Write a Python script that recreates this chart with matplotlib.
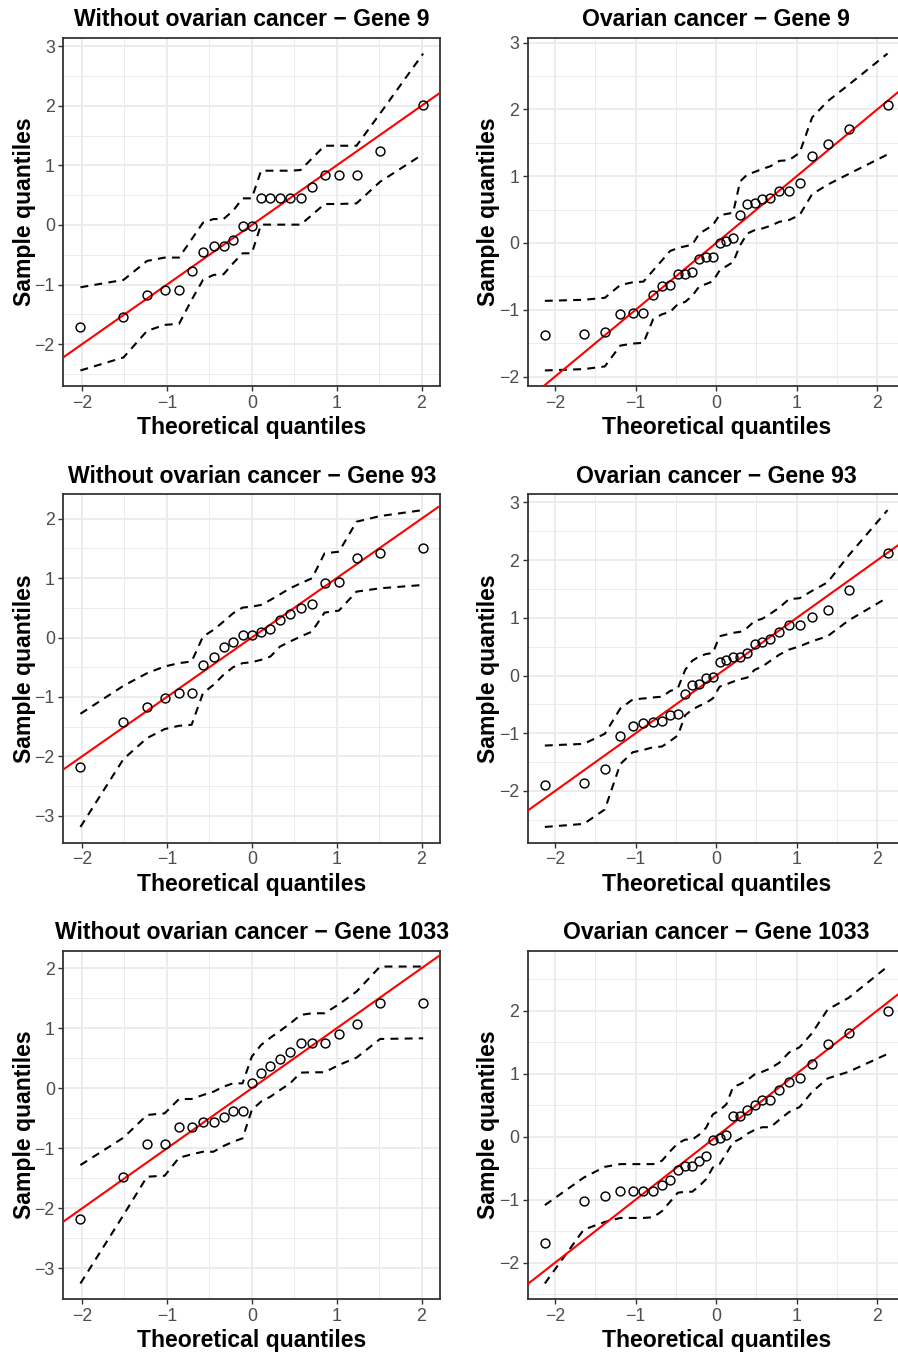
import matplotlib
matplotlib.use("Agg")
import matplotlib.pyplot as plt
from matplotlib.ticker import MultipleLocator
import numpy as np

plt.rcParams['font.family'] = ['Liberation Sans', 'DejaVu Sans']
plt.rcParams['axes.unicode_minus'] = True

# Theoretical normal quantiles (n = 23 and n = 30)
tq23 = [-2.019, -1.512, -1.234, -1.027, -0.857, -0.709, -0.575, -0.451, -0.333, -0.220, -0.109, 0.0,
        0.109, 0.220, 0.333, 0.451, 0.575, 0.709, 0.857, 1.027, 1.234, 1.512, 2.019]
tq30 = [-2.128, -1.645, -1.383, -1.191, -1.036, -0.903, -0.784, -0.674, -0.573, -0.477, -0.385, -0.297,
        -0.210, -0.126, -0.042, 0.042, 0.126, 0.210, 0.297, 0.385, 0.477, 0.573, 0.674, 0.784, 0.903,
        1.036, 1.191, 1.383, 1.645, 2.128]

titles = ["Without ovarian cancer \u2212 Gene 9", "Ovarian cancer \u2212 Gene 9",
          "Without ovarian cancer \u2212 Gene 93", "Ovarian cancer \u2212 Gene 93",
          "Without ovarian cancer \u2212 Gene 1033", "Ovarian cancer \u2212 Gene 1033"]

# Gene 9, without cancer
s1 = [-1.72, -1.54, -1.18, -1.09, -1.09, -0.77, -0.45, -0.36, -0.36, -0.25, -0.01, -0.01, 0.46, 0.46,
      0.46, 0.46, 0.46, 0.64, 0.84, 0.84, 0.84, 1.25, 2.01]
up1 = [-1.045, -0.922, -0.603, -0.547, -0.547, -0.24, 0.039, 0.10, 0.10, 0.24, 0.447, 0.447, 0.911,
       0.911, 0.911, 0.911, 0.922, 1.117, 1.330, 1.330, 1.330, 1.872, 2.877]
lo1 = [-2.441, -2.223, -1.777, -1.676, -1.659, -1.257, -0.922, -0.838, -0.827, -0.642, -0.475, -0.475,
       0.006, 0.006, 0.006, 0.006, 0.006, 0.168, 0.352, 0.352, 0.363, 0.726, 1.19]

# Gene 9, ovarian cancer
s2 = [-1.385, -1.365, -1.340, -1.058, -1.043, -1.043, -0.781, -0.650, -0.630, -0.463, -0.463, -0.438,
      -0.242, -0.217, -0.217, 0.0, 0.025, 0.081, 0.418, 0.579, 0.599, 0.655, 0.680, 0.781, 0.781,
      0.902, 1.295, 1.481, 1.703, 2.071]
up2 = [-0.867, -0.851, -0.821, -0.630, -0.589, -0.579, -0.413, -0.262, -0.121, -0.076, -0.050, -0.025,
       0.141, 0.202, 0.267, 0.418, 0.433, 0.453, 0.922, 1.023, 1.063, 1.108, 1.149, 1.229, 1.239,
       1.350, 1.879, 2.121, 2.368, 2.836]
lo2 = [-1.909, -1.889, -1.849, -1.537, -1.506, -1.496, -1.144, -1.068, -1.033, -0.917, -0.882, -0.791,
       -0.650, -0.615, -0.574, -0.413, -0.348, -0.287, -0.035, 0.141, 0.191, 0.217, 0.257, 0.317,
       0.343, 0.418, 0.730, 0.872, 1.033, 1.325]

# Gene 93, without cancer
s3 = [-2.185, -1.423, -1.165, -1.025, -0.941, -0.936, -0.459, -0.331, -0.162, -0.073, 0.050, 0.050,
      0.090, 0.151, 0.297, 0.403, 0.499, 0.560, 0.919, 0.941, 1.345, 1.417, 1.501]
up3 = [-1.283, -0.812, -0.60, -0.487, -0.431, -0.403, 0.017, 0.129, 0.269, 0.409, 0.504, 0.521, 0.549,
       0.633, 0.728, 0.829, 0.913, 0.997, 1.417, 1.445, 1.95, 2.045, 2.146]
lo3 = [-3.188, -2.045, -1.692, -1.541, -1.485, -1.468, -0.936, -0.796, -0.627, -0.499, -0.431, -0.415,
       -0.375, -0.319, -0.151, -0.067, 0.017, 0.10, 0.42, 0.454, 0.773, 0.829, 0.885]

# Gene 93, ovarian cancer
s4 = [-1.889, -1.854, -1.627, -1.055, -0.869, -0.822, -0.810, -0.781, -0.688, -0.659, -0.315, -0.157,
      -0.140, -0.047, -0.023, 0.239, 0.268, 0.321, 0.321, 0.385, 0.542, 0.577, 0.641, 0.752, 0.869,
      0.875, 1.009, 1.137, 1.487, 2.128]
up4 = [-1.213, -1.184, -1.009, -0.571, -0.414, -0.397, -0.379, -0.367, -0.268, -0.222, 0.099, 0.257,
       0.332, 0.373, 0.391, 0.682, 0.711, 0.741, 0.758, 0.828, 0.945, 0.985, 1.073, 1.178, 1.324,
       1.341, 1.469, 1.615, 2.082, 2.869]
lo4 = [-2.624, -2.571, -2.321, -1.534, -1.329, -1.289, -1.242, -1.230, -1.137, -1.038, -0.688, -0.589,
       -0.525, -0.472, -0.397, -0.192, -0.152, -0.105, -0.064, -0.035, 0.099, 0.157, 0.257, 0.362,
       0.449, 0.507, 0.595, 0.682, 0.956, 1.353]

# Gene 1033, without cancer
s5 = [-2.183, -1.483, -0.928, -0.928, -0.650, -0.650, -0.556, -0.556, -0.472, -0.378, -0.378, 0.083,
      0.261, 0.367, 0.483, 0.611, 0.756, 0.756, 0.756, 0.911, 1.072, 1.417, 1.417]
up5 = [-1.278, -0.822, -0.444, -0.417, -0.178, -0.178, -0.111, -0.056, 0.028, 0.083, 0.083, 0.528,
       0.722, 0.844, 0.956, 1.078, 1.222, 1.25, 1.25, 1.40, 1.611, 2.028, 2.028]
lo5 = [-3.25, -2.111, -1.472, -1.456, -1.156, -1.10, -1.056, -1.056, -0.961, -0.889, -0.833, -0.361,
       -0.222, -0.139, -0.028, 0.083, 0.261, 0.267, 0.267, 0.389, 0.511, 0.822, 0.833]

# Gene 1033, ovarian cancer
s6 = [-1.696, -1.029, -0.944, -0.859, -0.859, -0.859, -0.859, -0.773, -0.693, -0.533, -0.459, -0.459,
      -0.389, -0.315, -0.053, -0.016, 0.021, 0.331, 0.331, 0.427, 0.496, 0.587, 0.587, 0.741, 0.864,
      0.933, 1.157, 1.472, 1.643, 1.989]
up6 = [-1.088, -0.651, -0.48, -0.437, -0.437, -0.437, -0.437, -0.384, -0.235, -0.107, -0.048, -0.048,
       0.032, 0.139, 0.352, 0.416, 0.512, 0.789, 0.832, 0.896, 0.987, 1.029, 1.083, 1.173, 1.333,
       1.419, 1.643, 2.016, 2.203, 2.699]
lo6 = [-2.331, -1.477, -1.355, -1.291, -1.291, -1.291, -1.28, -1.184, -1.035, -0.891, -0.875, -0.875,
       -0.784, -0.677, -0.491, -0.437, -0.267, -0.091, -0.037, 0.043, 0.107, 0.149, 0.149, 0.267,
       0.389, 0.469, 0.709, 0.923, 1.029, 1.312]

# Reference line (intercept, slope) per panel
line_intercepts = [0.0, 0.0, 0.0, 0.0, 0.0, 0.0]
line_slopes = [1.0, 1.0, 1.0, 1.0, 1.0, 1.0]

panels = [(tq23, s1, lo1, up1), (tq30, s2, lo2, up2),
          (tq23, s3, lo3, up3), (tq30, s4, lo4, up4),
          (tq23, s5, lo5, up5), (tq30, s6, lo6, up6)]

W, H = 898, 1355
fig = plt.figure(figsize=(W / 100, H / 100), dpi=100)

col_left = [63.3, 527.7]
row_top = [37.7, 494.2, 950.7]
ax_w, ax_h = 377.0, 348.6

grey20 = "#333333"
grey30 = "#4D4D4D"
grid_c = "#EBEBEB"

for k, (tq, s, lo, up) in enumerate(panels):
    r, c = divmod(k, 2)
    left = col_left[c]
    top = row_top[r]
    ax = fig.add_axes([left / W, 1 - (top + ax_h) / H, ax_w / W, ax_h / H])

    tq_a = np.asarray(tq)
    allx = tq_a
    ally = np.concatenate([s, lo, up])
    xr = allx.max() - allx.min()
    yr = ally.max() - ally.min()
    ax.set_xlim(allx.min() - 0.05 * xr, allx.max() + 0.05 * xr)
    ax.set_ylim(ally.min() - 0.05 * yr, ally.max() + 0.05 * yr)

    ax.xaxis.set_major_locator(MultipleLocator(1))
    ax.yaxis.set_major_locator(MultipleLocator(1))
    ax.xaxis.set_minor_locator(MultipleLocator(0.5))
    ax.yaxis.set_minor_locator(MultipleLocator(0.5))
    ax.set_axisbelow(True)
    ax.grid(which="major", color=grid_c, linewidth=1.3)
    ax.grid(which="minor", color=grid_c, linewidth=0.65)

    ax.plot(tq, lo, color="black", linewidth=1.5, linestyle=(0, (3.8, 3.0)), zorder=3)
    ax.plot(tq, up, color="black", linewidth=1.5, linestyle=(0, (3.8, 3.0)), zorder=3)
    ax.axline((0, line_intercepts[k]), slope=line_slopes[k], color="#FF0000", linewidth=1.5, zorder=4)
    ax.plot(tq, s, linestyle="none", marker="o", markersize=6.4, markerfacecolor="none",
            markeredgecolor="black", markeredgewidth=1.05, zorder=5)

    for sp in ax.spines.values():
        sp.set_color(grey20)
        sp.set_linewidth(1.3)
    ax.tick_params(which="major", length=3.6, width=1.0, color=grey20, labelcolor=grey30,
                   labelsize=12.8, pad=2.5)
    ax.tick_params(which="minor", length=0)

    ax.set_title(titles[k], fontsize=16.6, fontweight="bold", pad=8.4, color="black")
    ax.set_xlabel("Theoretical quantiles", fontsize=16.6, fontweight="bold")
    ax.set_ylabel("Sample quantiles", fontsize=16.6, fontweight="bold")
    ax.xaxis.set_label_coords(0.5, -47.7 / ax_h)
    ax.xaxis.label.set_va("baseline")
    ylab_x = (30.5 if c == 0 else 495.0) - left
    ax.yaxis.set_label_coords(ylab_x / ax_w, 0.5)
    ax.yaxis.label.set_va("baseline")

fig.savefig("out.png", dpi=100)
